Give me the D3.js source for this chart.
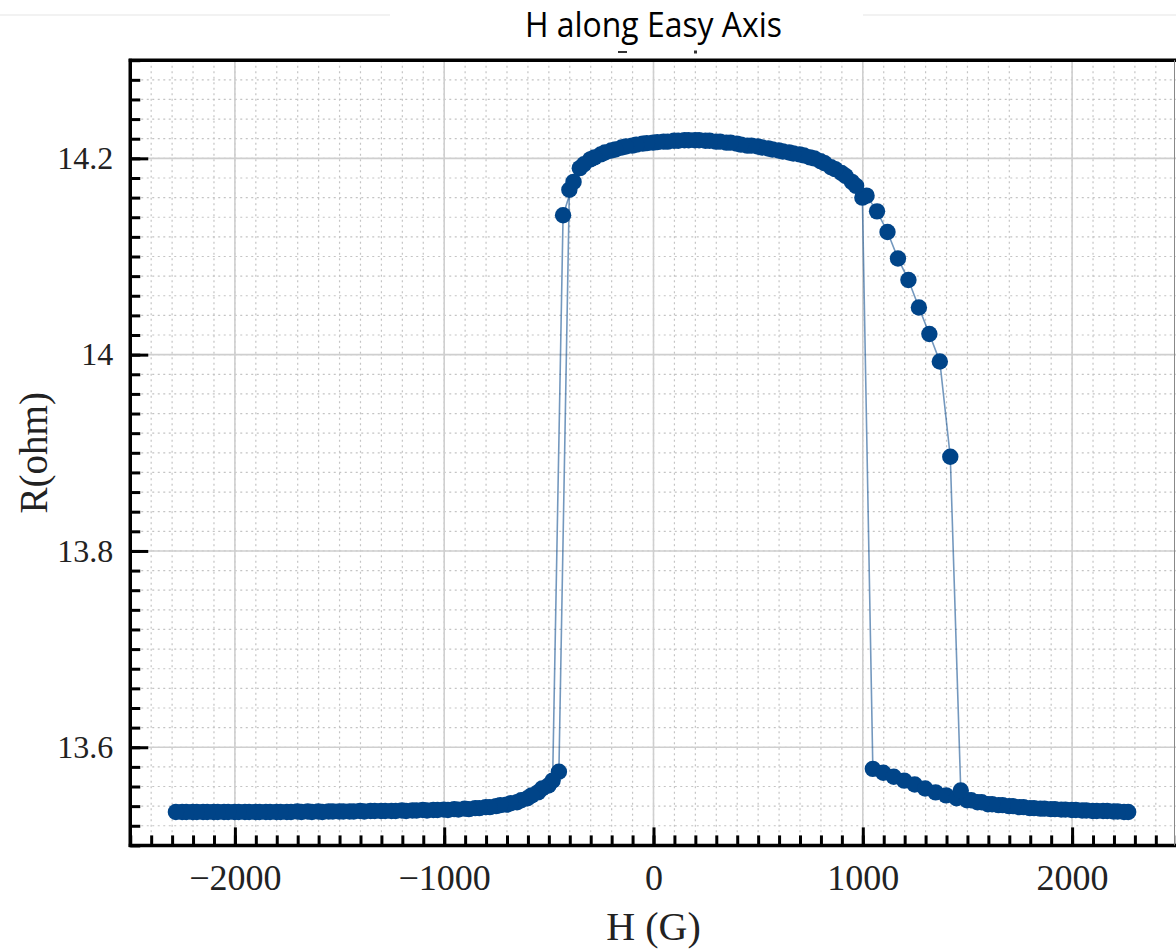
<!DOCTYPE html>
<html>
<head>
<meta charset="utf-8">
<script src="https://cdn.jsdelivr.net/npm/d3@7"></script>
<style>
  html, body { margin: 0; padding: 0; background: #fff; }
  svg { display: block; }
</style>
</head>
<body>
<script>
// Field sweep from negative to positive saturation (G) and measured resistance (ohm)
const upField = [
  -2252, -2202, -2152, -2102, -2052, -2002, -1952, -1902, -1852, -1802,
  -1752, -1702, -1652, -1602, -1552, -1502, -1452, -1402, -1352, -1302,
  -1252, -1202, -1152, -1102, -1052, -1002, -952, -902, -852, -802,
  -752, -702, -652, -602, -552, -502, -452, -402, -352, -302,
  -252, -202, -152, -102, -52, -2, 48, 98, 148, 198,
  248, 298, 348, 398, 448, 498, 548, 598, 648, 698,
  748, 798, 848, 898, 948, 998, 1048, 1098, 1148, 1198,
  1248, 1298, 1348, 1398, 1448, 1498, 1548, 1598, 1648, 1698,
  1748, 1798, 1848, 1898, 1948, 1998, 2048, 2098, 2148, 2198,
  2248
];
const upResistance = [
  13.534, 13.534, 13.534, 13.534, 13.534, 13.534, 13.534, 13.534, 13.534, 13.534,
  13.534, 13.5345, 13.5345, 13.5345, 13.5345, 13.5345, 13.5345, 13.535, 13.535, 13.535,
  13.535, 13.5355, 13.5355, 13.536, 13.536, 13.5365, 13.537, 13.5375, 13.538, 13.539,
  13.540, 13.5415, 13.544, 13.548, 13.554, 13.561, 13.575, 14.168, 14.190, 14.199,
  14.204, 14.208, 14.211, 14.213, 14.215, 14.216, 14.217, 14.218, 14.2185, 14.2185,
  14.218, 14.217, 14.216, 14.215, 14.213, 14.212, 14.210, 14.208, 14.206, 14.204,
  14.201, 14.197, 14.191, 14.185, 14.176, 14.160, 13.578, 13.574, 13.570, 13.566,
  13.562, 13.558, 13.554, 13.551, 13.548, 13.546, 13.544, 13.542, 13.541, 13.540,
  13.539, 13.538, 13.5375, 13.537, 13.5365, 13.536, 13.5355, 13.535, 13.535, 13.5345,
  13.534
];

// Return sweep from positive to negative saturation
const downField = [
  2268, 2218, 2168, 2118, 2068, 2018, 1968, 1918, 1868, 1818,
  1768, 1718, 1668, 1618, 1568, 1518, 1468, 1418, 1368, 1318,
  1268, 1218, 1168, 1118, 1068, 1018, 968, 918, 868, 818,
  768, 718, 668, 618, 568, 518, 468, 418, 368, 318,
  268, 218, 168, 118, 68, 18, -32, -82, -132, -182,
  -232, -282, -332, -382, -432, -482, -532, -582, -632, -682,
  -732, -782, -832, -882, -932, -982, -1032, -1082, -1132, -1182,
  -1232, -1282, -1332, -1382, -1432, -1482, -1532, -1582, -1632, -1682,
  -1732, -1782, -1832, -1882, -1932, -1982, -2032, -2082, -2132, -2182,
  -2232, -2282
];
const downResistance = [
  13.534, 13.5345, 13.535, 13.535, 13.5355, 13.536, 13.5365, 13.537, 13.5375, 13.538,
  13.539, 13.540, 13.541, 13.542, 13.544, 13.546, 13.556, 13.896, 13.993, 14.021,
  14.048, 14.076, 14.098, 14.125, 14.146, 14.162, 14.172, 14.182, 14.189, 14.195,
  14.200, 14.203, 14.205, 14.207, 14.209, 14.211, 14.213, 14.214, 14.216, 14.217,
  14.218, 14.2185, 14.2185, 14.218, 14.217, 14.2165, 14.2155, 14.214, 14.212, 14.209,
  14.206, 14.201, 14.194, 14.176, 14.142, 13.566, 13.558, 13.551, 13.546, 13.543,
  13.541, 13.539, 13.538, 13.537, 13.5365, 13.536, 13.536, 13.5355, 13.5355, 13.535,
  13.535, 13.535, 13.535, 13.5345, 13.5345, 13.5345, 13.5345, 13.534, 13.534, 13.534,
  13.534, 13.534, 13.534, 13.534, 13.534, 13.534, 13.534, 13.534, 13.534, 13.534,
  13.534, 13.534
];

const xTickValues = [-2000, -1000, 0, 1000, 2000];
const xTickLabels = ["\u22122000", "\u22121000", "0", "1000", "2000"];
const yTickValues = [13.6, 13.8, 14.0, 14.2];
const yTickLabels = ["13.6", "13.8", "14", "14.2"];
const titleText = "H along Easy Axis";
const xAxisTitle = "H (G)";
const yAxisTitle = "R(ohm)";

const width = 1176, height = 951;
const plot = { left: 130.25, right: 1176.75, top: 60.2, bottom: 845.4 };

const x = d3.scaleLinear().domain([-2500, 2500]).range([plot.left, plot.right]);
const y = d3.scaleLinear().domain([13.5, 14.3]).range([plot.bottom, plot.top]);

const markerColor = "#004488";
const serif = "'Liberation Serif', 'Times New Roman', serif";

const svg = d3.select("body").append("svg")
  .attr("width", width).attr("height", height)
  .attr("viewBox", `0 0 ${width} ${height}`);

svg.append("rect").attr("width", width).attr("height", height).attr("fill", "#fff");

const xMinor = x.ticks(50);
const yMinor = y.ticks(40);

// Grid: dotted minor lines, solid major lines
const grid = svg.append("g");
grid.selectAll(".vminor").data(xMinor).join("line")
  .attr("x1", d => x(d)).attr("x2", d => x(d))
  .attr("y1", plot.top).attr("y2", plot.bottom)
  .attr("stroke", "#c4c4c4").attr("stroke-width", 1.2).attr("stroke-dasharray", "2,3.5");
grid.selectAll(".hminor").data(yMinor).join("line")
  .attr("x1", plot.left).attr("x2", plot.right)
  .attr("y1", d => y(d)).attr("y2", d => y(d))
  .attr("stroke", "#c4c4c4").attr("stroke-width", 1.2).attr("stroke-dasharray", "2,3.5");
grid.selectAll(".vmajor").data(xTickValues).join("line")
  .attr("x1", d => x(d)).attr("x2", d => x(d))
  .attr("y1", plot.top).attr("y2", plot.bottom)
  .attr("stroke", "#cfcfcf").attr("stroke-width", 1.6);
grid.selectAll(".hmajor").data(yTickValues).join("line")
  .attr("x1", plot.left).attr("x2", plot.right)
  .attr("y1", d => y(d)).attr("y2", d => y(d))
  .attr("stroke", "#cfcfcf").attr("stroke-width", 1.6);

// Connecting lines for each sweep
const upPoints = upField.map((h, i) => [h, upResistance[i]]);
const downPoints = downField.map((h, i) => [h, downResistance[i]]);
const line = d3.line().x(d => x(d[0])).y(d => y(d[1]));

const series = svg.append("g");
[upPoints, downPoints].forEach(pts => {
  series.append("path").datum(pts)
    .attr("d", line)
    .attr("fill", "none")
    .attr("stroke", markerColor)
    .attr("stroke-opacity", 0.55)
    .attr("stroke-width", 1.6);
});
[upPoints, downPoints].forEach(pts => {
  series.append("g").selectAll("circle").data(pts).join("circle")
    .attr("cx", d => x(d[0])).attr("cy", d => y(d[1]))
    .attr("r", 8.2)
    .attr("fill", markerColor);
});

// Inward ticks on the bottom and left axes
function styleAxis(g) {
  g.select(".domain").remove();
  g.selectAll(".tick line").attr("stroke", "#000").attr("stroke-width", 3);
}

svg.append("g").attr("transform", `translate(0,${plot.bottom})`)
  .call(d3.axisBottom(x).tickValues(xMinor).tickSize(-10).tickFormat(""))
  .call(styleAxis);
svg.append("g").attr("transform", `translate(${plot.left},0)`)
  .call(d3.axisLeft(y).tickValues(yMinor).tickSize(-10).tickFormat(""))
  .call(styleAxis);

const xAxis = svg.append("g").attr("transform", `translate(0,${plot.bottom})`)
  .call(d3.axisBottom(x).tickValues(xTickValues).tickSize(-18).tickPadding(19)
    .tickFormat((d, i) => xTickLabels[i]))
  .call(styleAxis);
xAxis.selectAll("text")
  .attr("fill", "#222").attr("font-family", serif).attr("font-size", 36);

const yAxis = svg.append("g").attr("transform", `translate(${plot.left},0)`)
  .call(d3.axisLeft(y).tickValues(yTickValues).tickSize(-18).tickPadding(17)
    .tickFormat((d, i) => yTickLabels[i]))
  .call(styleAxis);
yAxis.selectAll("text")
  .attr("fill", "#222").attr("font-family", serif).attr("font-size", 32);

// Frame
const frame = svg.append("g").attr("fill", "none");
frame.append("line").attr("x1", plot.left).attr("x2", plot.left)
  .attr("y1", plot.top - 1.5).attr("y2", plot.bottom + 1.5)
  .attr("stroke", "#000").attr("stroke-width", 3.5);
frame.append("line").attr("x1", plot.left - 1.5).attr("x2", width)
  .attr("y1", plot.bottom).attr("y2", plot.bottom)
  .attr("stroke", "#000").attr("stroke-width", 3.5);
frame.append("line").attr("x1", plot.left - 1.5).attr("x2", width)
  .attr("y1", plot.top).attr("y2", plot.top)
  .attr("stroke", "#000").attr("stroke-width", 3.5);
frame.append("line").attr("x1", 1174.5).attr("x2", 1174.5)
  .attr("y1", plot.top).attr("y2", plot.bottom)
  .attr("stroke", "#888").attr("stroke-width", 1);

// Axis titles
svg.append("text")
  .attr("x", x(0)).attr("y", 940)
  .attr("text-anchor", "middle")
  .attr("font-family", serif).attr("font-size", 40).attr("fill", "#222")
  .text(xAxisTitle);
svg.append("text")
  .attr("transform", `translate(47,${(plot.top + plot.bottom) / 2}) rotate(-90)`)
  .attr("text-anchor", "middle")
  .attr("font-family", serif).attr("font-size", 39).attr("fill", "#222")
  .text(yAxisTitle);

// Header band with the title box
const header = svg.append("g");
header.append("line").attr("x1", 0).attr("x2", width).attr("y1", 15).attr("y2", 15)
  .attr("stroke", "#e6e6e6").attr("stroke-width", 1.2);
header.append("rect").attr("x", 390).attr("y", 0).attr("width", 473).attr("height", 49)
  .attr("fill", "#fff");
header.append("rect").attr("x", 618).attr("y", 51).attr("width", 9).attr("height", 2)
  .attr("fill", "#333");
header.append("rect").attr("x", 694).attr("y", 50.5).attr("width", 3).attr("height", 3)
  .attr("fill", "#333");
header.append("text")
  .attr("x", 653.5).attr("y", 37)
  .attr("text-anchor", "middle")
  .attr("font-family", "'Open Sans', 'Noto Sans', sans-serif")
  .attr("font-size", 34).attr("fill", "#000")
  .attr("textLength", 257).attr("lengthAdjust", "spacingAndGlyphs")
  .text(titleText);
</script>
</body>
</html>
